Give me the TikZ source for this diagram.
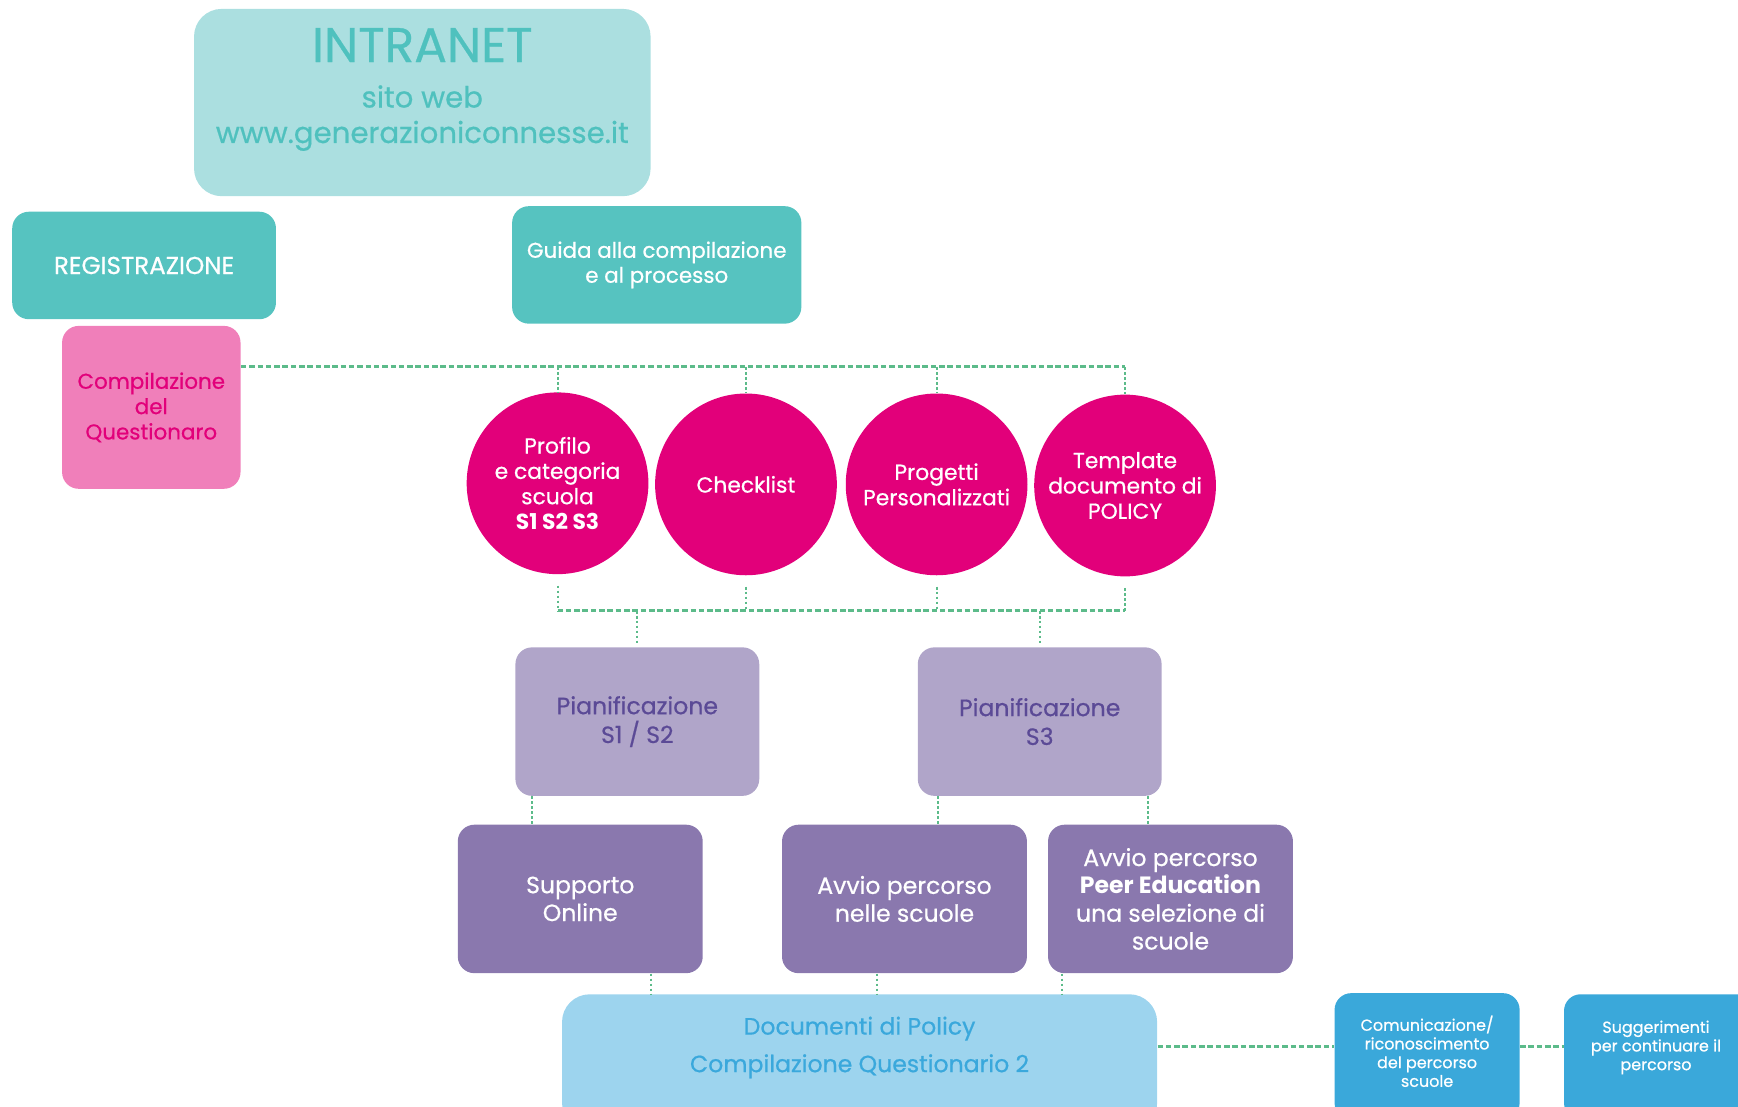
\documentclass[tikz,border=0pt]{standalone}
\usepackage{fontspec}
\setmainfont{Poppins}[UprightFeatures={FakeBold=0.6}]
\usetikzlibrary{calc}

\definecolor{intranetfill}{HTML}{ABDFE0}
\definecolor{tealtext}{HTML}{4FC1BE}
\definecolor{tealfill}{HTML}{56C3C0}
\definecolor{pinkfill}{HTML}{F07FBA}
\definecolor{magenta}{HTML}{E2007A}
\definecolor{lilac}{HTML}{B0A5C9}
\definecolor{lilactext}{HTML}{5B4A96}
\definecolor{violet}{HTML}{8A78AE}
\definecolor{skyfill}{HTML}{9DD4EE}
\definecolor{skytext}{HTML}{3AA8DC}
\definecolor{bluefill}{HTML}{3AA8DA}
\definecolor{linkgreen}{HTML}{5CBB8A}

\tikzset{
  card/.style={rectangle, rounded corners=0.3cm, inner sep=0pt, align=center, draw=none},
  tealcard/.style={card, fill=tealfill, text=white,
    font=\fontsize{11pt}{12.8pt}\selectfont},
  quizcard/.style={card, fill=pinkfill, text=magenta,
    font=\fontsize{11pt}{13pt}\selectfont},
  disc/.style={circle, fill=magenta, text=white, inner sep=0pt, align=center,
    minimum size=3.28cm, font=\fontsize{11.2pt}{13pt}\selectfont},
  plancard/.style={card, fill=lilac, text=lilactext, minimum width=4.4cm,
    minimum height=2.68cm, font=\fontsize{12.1pt}{14.8pt}\selectfont},
  actcard/.style={card, fill=violet, text=white, minimum width=4.42cm,
    minimum height=2.68cm, font=\fontsize{12.1pt}{14.3pt}\selectfont},
  bluecard/.style={card, fill=bluefill},
  smalltext/.style={inner sep=0pt, align=center, text=white,
    font=\fontsize{8.2pt}{9.6pt}\selectfont},
  hbus/.style={draw=linkgreen, line width=1.6pt, dash pattern=on 0.1cm off 0.05cm},
  vtick/.style={draw=linkgreen, line width=1pt, dash pattern=on 0.05cm off 0.04cm}
}

\begin{document}
\begin{tikzpicture}[x=0.02cm, y=-0.02cm]
\clip (0,0) rectangle (1568,998);

% header
\node[card, rounded corners=0.5cm, fill=intranetfill, minimum width=8.24cm,
      minimum height=3.38cm] (intranet) at (381,92.5) {};
\node[anchor=base, inner sep=0pt, text=tealtext, font=\fontsize{25pt}{28pt}\selectfont]
  (t-intranet) at (381,56) {INTRANET};
\node[anchor=base, inner sep=0pt, text=tealtext, font=\fontsize{15pt}{17pt}\selectfont]
  (t-sito) at (381,97) {sito web};
\node[anchor=base, inner sep=0pt, text=tealtext, font=\fontsize{15pt}{17pt}\selectfont]
  (t-url) at (381,129) {www.generazioniconnesse.it};

% registration and guide
\node[tealcard, minimum width=4.76cm, minimum height=1.94cm,
      font=\fontsize{12.6pt}{14pt}\selectfont] (reg) at (130,239.5) {REGISTRAZIONE};
\node[tealcard, minimum width=5.22cm, minimum height=2.12cm] (guide) at (592.5,239)
  {Guida alla compilazione\\e al processo};

% questionnaire
\node[quizcard, minimum width=3.22cm, minimum height=2.94cm] (quest) at (136.5,367.5)
  {Compilazione\\del\\Questionaro};

% tools
\node[disc] (c1) at (503,436) {Profilo\\e categoria\\scuola\\\textbf{S1 S2 S3}};
\node[disc] (c2) at (673,437) {Checklist};
\node[disc] (c3) at (845,437) {Progetti\\Personalizzati};
\node[disc] (c4) at (1015,438) {Template\\documento di\\POLICY};

% planning
\node[plancard] (pian1) at (575,651) {Pianificazione\\S1 / S2};
\node[plancard] (pian3) at (938,651) {Pianificazione\\S3};

% activities
\node[actcard] (supp) at (523.5,811) {Supporto\\Online};
\node[actcard] (avvio) at (816,811) {Avvio percorso\\nelle scuole};
\node[actcard] (peer) at (1056,811)
  {Avvio percorso\\\textbf{Peer Education}\\una selezione di\\scuole};

% closing documents
\node[card, rounded corners=0.5cm, fill=skyfill, minimum width=10.74cm,
      minimum height=2.46cm] (docs) at (775.5,958.5) {};
\node[inner sep=0pt, align=center, text=skytext,
      font=\fontsize{12.1pt}{19.3pt}\selectfont] (t-docs) at (775.5,945)
  {Documenti di Policy\\Compilazione Questionario 2};
\node[bluecard, minimum width=3.34cm, minimum height=2.28cm] (comm) at (1287.5,953) {};
\node[smalltext] (t-comm) at (1287.5,948.5)
  {Comunicazione/\\riconoscimento\\del percorso\\scuole};
\node[bluecard, minimum width=3.58cm, minimum height=2.26cm] (sugg) at (1500.5,953.5) {};
\node[smalltext] (t-sugg) at (1494,945)
  {Suggerimenti\\per continuare il\\percorso};

% guide rows and columns for the connectors
\coordinate (bustop) at (0,331);
\coordinate (busbot) at (0,551);
\coordinate (busdoc) at (0,944);
\coordinate (v1) at (480,0);
\coordinate (v2) at (846,0);
\coordinate (v3) at (1036,0);
\coordinate (v4) at (587,0);
\coordinate (v5) at (791,0);
\coordinate (v6) at (958,0);

% questionnaire to tools
\draw[hbus] (quest.east |- bustop) -- (c4.north |- bustop);
\foreach \c in {c1,c2,c3,c4}
  \draw[vtick] (\c.north |- bustop) -- (\c.north);

% tools to planning
\draw[hbus] (c1.south |- busbot) -- (c4.south |- busbot);
\foreach \c in {c1,c2,c3,c4}
  \draw[vtick, shorten <=0.2cm] (\c.south) -- (\c.south |- busbot);
\draw[vtick, shorten >=0.06cm] (pian1.north |- busbot) -- (pian1.north);
\draw[vtick, shorten >=0.06cm] (pian3.north |- busbot) -- (pian3.north);

% planning to activities
\draw[vtick] (pian1.south -| v1) -- (supp.north -| v1);
\draw[vtick] (pian3.south -| v2) -- (avvio.north -| v2);
\draw[vtick] (pian3.south -| v3) -- (peer.north -| v3);

% activities to documents
\draw[vtick] (supp.south -| v4) -- (docs.north -| v4);
\draw[vtick] (avvio.south -| v5) -- (docs.north -| v5);
\draw[vtick] (peer.south -| v6) -- (docs.north -| v6);

% documents to follow-up
\draw[hbus] (docs.east |- busdoc) -- (comm.west |- busdoc);
\draw[hbus] (comm.east |- busdoc) -- (sugg.west |- busdoc);
\end{tikzpicture}
\end{document}
